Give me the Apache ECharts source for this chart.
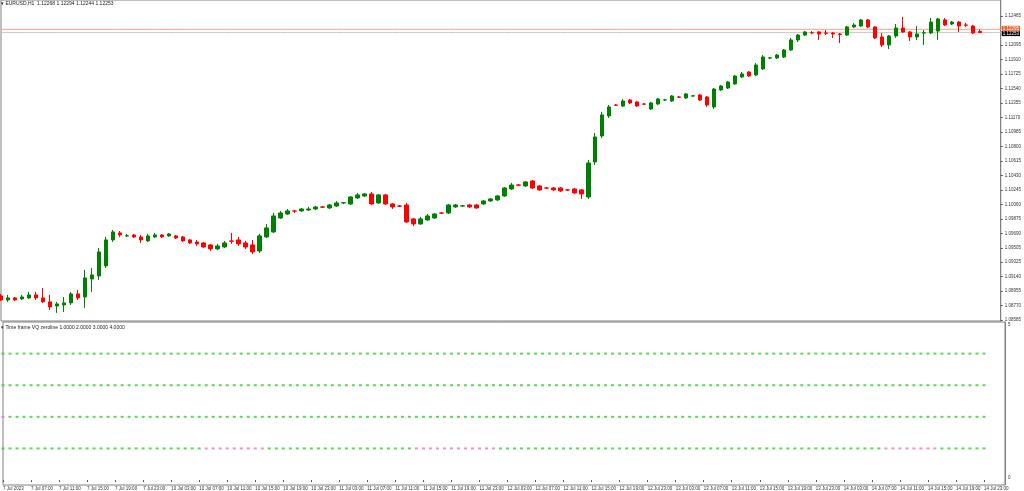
<!DOCTYPE html>
<html>
<head>
<meta charset="utf-8">
<script src="https://cdn.jsdelivr.net/npm/echarts@6/dist/echarts.min.js"></script>
<style>
html, body { margin: 0; padding: 0; background: #fff; }
#main { width: 1024px; height: 491px; }
</style>
</head>
<body>
<div id="main"></div>
<script>
// hourly bars, 7 Jul 03:00 .. 14 Jul 23:00
var days = ['7 Jul', '10 Jul', '11 Jul', '12 Jul', '13 Jul', '14 Jul'];
var timeLabels = [
  '7 Jul 2023', '7 Jul 07:00', '7 Jul 11:00', '7 Jul 15:00', '7 Jul 19:00', '7 Jul 23:00',
  '10 Jul 03:00', '10 Jul 07:00', '10 Jul 11:00', '10 Jul 15:00', '10 Jul 19:00', '10 Jul 23:00',
  '11 Jul 03:00', '11 Jul 07:00', '11 Jul 11:00', '11 Jul 15:00', '11 Jul 19:00', '11 Jul 23:00',
  '12 Jul 03:00', '12 Jul 07:00', '12 Jul 11:00', '12 Jul 15:00', '12 Jul 19:00', '12 Jul 23:00',
  '13 Jul 03:00', '13 Jul 07:00', '13 Jul 11:00', '13 Jul 15:00', '13 Jul 19:00', '13 Jul 23:00',
  '14 Jul 03:00', '14 Jul 07:00', '14 Jul 11:00', '14 Jul 15:00', '14 Jul 19:00', '14 Jul 23:00'
];
var priceLabels = ['1.08585', '1.08770', '1.08955', '1.09140', '1.09325', '1.09505', '1.09690',
  '1.09875', '1.10060', '1.10245', '1.10430', '1.10615', '1.10800', '1.10985', '1.11170',
  '1.11355', '1.11540', '1.11725', '1.11910', '1.12095', '1.12465'];

var open = [
  1.08892, 1.08841, 1.08867, 1.08854, 1.08867, 1.08905, 1.08867, 1.08816, 1.08764, 1.08777,
  1.08803, 1.08918, 1.08879, 1.09109, 1.09147, 1.09275, 1.09607, 1.09696, 1.09658, 1.09670,
  1.09645, 1.09594, 1.09645, 1.09670, 1.09658, 1.09658, 1.09645, 1.09607, 1.09581, 1.09568,
  1.09543, 1.09492, 1.09517, 1.09594, 1.09607, 1.09568, 1.09543, 1.09466, 1.09645, 1.09709,
  1.09887, 1.09938, 1.09977, 1.09977, 1.09989, 1.10002, 1.10028, 1.10015, 1.10040, 1.10079,
  1.10066, 1.10143, 1.10168, 1.10194, 1.10079, 1.10181, 1.10066, 1.10040, 1.10053, 1.09875,
  1.09811, 1.09862, 1.09887, 1.09951, 1.09951, 1.10028, 1.10040, 1.10053, 1.10053, 1.10066,
  1.10104, 1.10117, 1.10168, 1.10257, 1.10308, 1.10296, 1.10359, 1.10296, 1.10270, 1.10270,
  1.10270, 1.10245, 1.10257, 1.10245, 1.10155, 1.10602, 1.10934, 1.11189, 1.11329, 1.11316,
  1.11393, 1.11368, 1.11342, 1.11278, 1.11342, 1.11393, 1.11380, 1.11431, 1.11419, 1.11444,
  1.11457, 1.11431, 1.11304, 1.11521, 1.11546, 1.11597, 1.11687, 1.11750, 1.11712, 1.11789,
  1.11929, 1.11929, 1.11942, 1.12031, 1.12159, 1.12222, 1.12252, 1.12261, 1.12248, 1.12248,
  1.12235, 1.12222, 1.12325, 1.12337, 1.12414, 1.12325, 1.12197, 1.12095, 1.12210, 1.12312,
  1.12261, 1.12197, 1.12248, 1.12248, 1.12273, 1.12414, 1.12363, 1.12388, 1.12350, 1.12337,
  1.12268
];
var close = [
  1.08841, 1.08867, 1.08841, 1.08879, 1.08905, 1.08867, 1.08816, 1.08752, 1.08790, 1.08803,
  1.08918, 1.08867, 1.09122, 1.09160, 1.09454, 1.09607, 1.09709, 1.09670, 1.09660, 1.09645,
  1.09607, 1.09658, 1.09670, 1.09645, 1.09683, 1.09632, 1.09594, 1.09568, 1.09556, 1.09517,
  1.09492, 1.09530, 1.09568, 1.09590, 1.09556, 1.09517, 1.09454, 1.09658, 1.09760, 1.09913,
  1.09951, 1.09977, 1.09975, 1.10002, 1.10002, 1.10028, 1.10025, 1.10053, 1.10079, 1.10082,
  1.10155, 1.10181, 1.10194, 1.10066, 1.10181, 1.10066, 1.10028, 1.10038, 1.09836, 1.09811,
  1.09875, 1.09913, 1.09938, 1.09949, 1.10053, 1.10053, 1.10042, 1.10028, 1.10015, 1.10104,
  1.10130, 1.10168, 1.10270, 1.10308, 1.10306, 1.10347, 1.10270, 1.10245, 1.10268, 1.10245,
  1.10232, 1.10243, 1.10206, 1.10194, 1.10589, 1.10921, 1.11202, 1.11304, 1.11327, 1.11380,
  1.11355, 1.11316, 1.11340, 1.11355, 1.11406, 1.11395, 1.11444, 1.11429, 1.11470, 1.11446,
  1.11393, 1.11329, 1.11533, 1.11572, 1.11623, 1.11699, 1.11725, 1.11699, 1.11840, 1.11942,
  1.11931, 1.11967, 1.12031, 1.12159, 1.12222, 1.12261, 1.12250, 1.12235, 1.12246, 1.12235,
  1.12229, 1.12325, 1.12350, 1.12414, 1.12325, 1.12184, 1.12095, 1.12210, 1.12312, 1.12261,
  1.12197, 1.12235, 1.12250, 1.12388, 1.12427, 1.12350, 1.12388, 1.12337, 1.12348, 1.12248,
  1.12253
];
var low = [
  1.08828, 1.08816, 1.08828, 1.08841, 1.08854, 1.08841, 1.08803, 1.08713, 1.08675, 1.08688,
  1.08777, 1.08841, 1.08739, 1.08943, 1.09096, 1.09249, 1.09581, 1.09645, 1.09645, 1.09632,
  1.09568, 1.09581, 1.09632, 1.09632, 1.09645, 1.09619, 1.09581, 1.09556, 1.09530, 1.09505,
  1.09466, 1.09479, 1.09505, 1.09556, 1.09530, 1.09492, 1.09428, 1.09441, 1.09632, 1.09696,
  1.09875, 1.09926, 1.09951, 1.09964, 1.09977, 1.09989, 1.10015, 1.10002, 1.10028, 1.10066,
  1.10053, 1.10130, 1.10155, 1.10053, 1.10066, 1.10053, 1.10002, 1.10028, 1.09824, 1.09785,
  1.09798, 1.09849, 1.09875, 1.09938, 1.09938, 1.10015, 1.10028, 1.10015, 1.10002, 1.10053,
  1.10092, 1.10104, 1.10155, 1.10245, 1.10296, 1.10283, 1.10257, 1.10232, 1.10257, 1.10232,
  1.10219, 1.10232, 1.10194, 1.10130, 1.10130, 1.10564, 1.10908, 1.11163, 1.11316, 1.11304,
  1.11342, 1.11304, 1.11329, 1.11265, 1.11329, 1.11380, 1.11368, 1.11419, 1.11406, 1.11431,
  1.11380, 1.11304, 1.11278, 1.11508, 1.11533, 1.11584, 1.11674, 1.11687, 1.11699, 1.11776,
  1.11916, 1.11916, 1.11929, 1.12018, 1.12133, 1.12210, 1.12235, 1.12159, 1.12222, 1.12184,
  1.12120, 1.12210, 1.12312, 1.12325, 1.12312, 1.12171, 1.12069, 1.12044, 1.12184, 1.12248,
  1.12146, 1.12159, 1.12095, 1.12235, 1.12159, 1.12337, 1.12350, 1.12261, 1.12325, 1.12235,
  1.12244
];
var high = [
  1.08918, 1.08905, 1.08879, 1.08905, 1.08943, 1.08943, 1.08994, 1.08905, 1.08816, 1.08879,
  1.08943, 1.08969, 1.09224, 1.09249, 1.09505, 1.09645, 1.09734, 1.09721, 1.09683, 1.09683,
  1.09670, 1.09683, 1.09696, 1.09683, 1.09696, 1.09670, 1.09658, 1.09619, 1.09607, 1.09581,
  1.09556, 1.09556, 1.09594, 1.09696, 1.09645, 1.09594, 1.09607, 1.09683, 1.09811, 1.09951,
  1.09977, 1.10002, 1.09989, 1.10015, 1.10028, 1.10040, 1.10040, 1.10066, 1.10104, 1.10092,
  1.10168, 1.10206, 1.10206, 1.10219, 1.10194, 1.10194, 1.10079, 1.10053, 1.10079, 1.09887,
  1.09900, 1.09938, 1.09951, 1.09964, 1.10066, 1.10066, 1.10053, 1.10066, 1.10066, 1.10117,
  1.10143, 1.10181, 1.10283, 1.10334, 1.10321, 1.10359, 1.10372, 1.10308, 1.10283, 1.10283,
  1.10283, 1.10257, 1.10270, 1.10257, 1.10627, 1.10972, 1.11240, 1.11329, 1.11342, 1.11406,
  1.11406, 1.11380, 1.11355, 1.11368, 1.11419, 1.11406, 1.11457, 1.11444, 1.11482, 1.11457,
  1.11470, 1.11444, 1.11546, 1.11584, 1.11635, 1.11712, 1.11750, 1.11763, 1.11865, 1.11967,
  1.11942, 1.11980, 1.12044, 1.12184, 1.12235, 1.12273, 1.12273, 1.12273, 1.12286, 1.12261,
  1.12248, 1.12337, 1.12376, 1.12427, 1.12427, 1.12337, 1.12248, 1.12222, 1.12363, 1.12452,
  1.12273, 1.12337, 1.12286, 1.12439, 1.12439, 1.12439, 1.12401, 1.12401, 1.12376, 1.12350,
  1.12294
];

var askPrice = 1.12295;
var bidPrice = 1.12253;

// indicator: 4 levels, bars where the level is bearish (pink)
var levels = [4, 3, 2, 1];
var pinkLevel2 = [0];
var pinkLevel1 = [29, 30, 31, 32, 33, 34, 35, 36, 37,
  59, 60, 61, 62, 63, 64, 65, 66, 67, 68, 69, 70,
  126, 127, 128, 129, 130, 131, 132, 133];

var categories = [];
days.forEach(function (d, k) {
  for (var h = (k === 0 ? 3 : 0); h < 24; h++) {
    categories.push(d + ' ' + (h < 10 ? '0' : '') + h + ':00');
  }
});
categories.push('', '', '');

var candles = [];
for (var i = 0; i < open.length; i++) {
  candles.push([open[i], close[i], low[i], high[i]]);
}

var greenDots = [];
var pinkDots = [];
levels.forEach(function (lv) {
  var pinkList = lv === 1 ? pinkLevel1 : (lv === 2 ? pinkLevel2 : []);
  for (var i = 0; i < open.length; i++) {
    if (pinkList.indexOf(i) >= 0) pinkDots.push([i, lv]);
    else greenDots.push([i, lv]);
  }
});

// horizontal price lines across the whole window
function flat(v) {
  return categories.map(function () { return v; });
}

var font = 'Liberation Sans';
function priceLine(v, lineColor, tagColor, dy) {
  return {
    type: 'line', xAxisIndex: 0, yAxisIndex: 0,
    data: flat(v), symbol: 'none', silent: true, z: 1,
    lineStyle: { color: lineColor, width: 1 },
    endLabel: {
      show: true, distance: 1, offset: [0, dy],
      formatter: v.toFixed(5), fontSize: 4.5, fontFamily: font,
      color: '#fff', backgroundColor: tagColor, padding: [0, 1]
    }
  };
}

var myChart = echarts.init(document.getElementById('main'));
myChart.setOption({
  animation: false,
  backgroundColor: '#ffffff',
  title: [{
    text: '\u25be EURUSD,H1  1.12268 1.12294 1.12244 1.12253',
    left: 1, top: 1, padding: 0,
    textStyle: { fontSize: 5, fontWeight: 'normal', color: '#222', fontFamily: font }
  }, {
    text: '\u25be Time frame VQ zeroline 1.0000 2.0000 3.0000 4.0000',
    left: 1, top: 325, padding: 0,
    textStyle: { fontSize: 5, fontWeight: 'normal', color: '#222', fontFamily: font }
  }],
  grid: [
    { left: 1, top: 0, width: 1004, height: 321, show: true, borderColor: '#808080', borderWidth: 1 },
    { left: 1, top: 322, width: 1004, height: 165, show: true, borderColor: '#808080', borderWidth: 1 }
  ],
  xAxis: [{
    type: 'category', gridIndex: 0, data: categories, boundaryGap: false,
    axisLine: { show: false }, axisTick: { show: false }, axisLabel: { show: false }
  }, {
    type: 'category', gridIndex: 1, data: categories, boundaryGap: false,
    axisLine: { show: false },
    axisTick: { show: true, interval: 3, length: 2, lineStyle: { color: '#555' } },
    axisLabel: {
      interval: 3, fontSize: 4.5, margin: 1, align: 'left', color: '#333',
      fontFamily: font,
      formatter: function (v, idx) { return timeLabels[idx / 4] || ''; }
    }
  }],
  yAxis: [{
    type: 'value', gridIndex: 0, position: 'right', min: 1.08572, max: 1.12669,
    splitLine: { show: false },
    axisLine: { show: true, lineStyle: { color: '#808080' } },
    axisTick: { show: true, length: 2, customValues: priceLabels.map(Number), lineStyle: { color: '#555' } },
    axisLabel: {
      customValues: priceLabels.map(Number), fontSize: 4.5, margin: 4, color: '#333', fontFamily: font,
      formatter: function (v) { return v.toFixed(5); }
    }
  }, {
    type: 'value', gridIndex: 1, position: 'right', min: -0.156, max: 5,
    splitLine: { show: false },
    axisLine: { show: true, lineStyle: { color: '#808080' } },
    axisTick: { show: false },
    axisLabel: {
      customValues: [0, 5], fontSize: 4.5, margin: 3, color: '#333', fontFamily: font,
      verticalAlignMinLabel: 'bottom', verticalAlignMaxLabel: 'top'
    }
  }],
  series: [
    priceLine(askPrice, '#f4a582', '#f05a28', -1),
    priceLine(bidPrice, '#c8c8c8', '#000000', 1),
    {
      type: 'candlestick',
      xAxisIndex: 0, yAxisIndex: 0, z: 3,
      data: candles,
      barWidth: 4,
      itemStyle: {
        color: '#008000', color0: '#ff0000',
        borderColor: '#008000', borderColor0: '#ff0000', borderWidth: 1
      }
    }, {
      type: 'scatter', xAxisIndex: 1, yAxisIndex: 1,
      symbol: 'rect', symbolSize: [3, 2],
      itemStyle: { color: '#32cd32' },
      data: greenDots
    }, {
      type: 'scatter', xAxisIndex: 1, yAxisIndex: 1,
      symbol: 'rect', symbolSize: [3, 2],
      itemStyle: { color: '#e87aa0' },
      data: pinkDots
    }
  ]
});
window.addEventListener('resize', function () {
  myChart.resize();
});
</script>
</body>
</html>
